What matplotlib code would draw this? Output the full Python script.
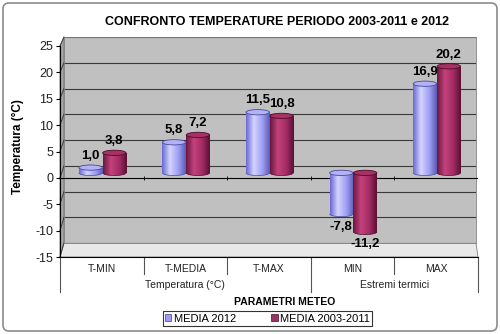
import matplotlib
matplotlib.use('Agg')
import matplotlib.pyplot as plt
import numpy as np
from matplotlib.patches import Rectangle, Ellipse, Polygon, FancyBboxPatch, Patch, Arc
from matplotlib.colors import LinearSegmentedColormap
import matplotlib.transforms as mtrans

plt.rcParams['font.family'] = ['Liberation Sans', 'DejaVu Sans']

# ---- data ----
categories = ['T-MIN', 'T-MEDIA', 'T-MAX', 'MIN', 'MAX']
groups = ['Temperatura (°C)', 'Estremi termici']
group_sizes = [3, 2]
media_2012 = [1.0, 5.8, 11.5, -7.8, 16.9]
media_2003_2011 = [3.8, 7.2, 10.8, -11.2, 20.2]
series_names = ['MEDIA 2012', 'MEDIA 2003-2011']
yticks = list(range(-15, 26, 5))

W, H = 500, 334
fig = plt.figure(figsize=(5, 3.34), dpi=100)


def fr(x0, y0, x1, y1):
    return [x0 / W, 1 - y1 / H, (x1 - x0) / W, (y1 - y0) / H]


# background / decoration
bg = fig.add_axes([0, 0, 1, 1], zorder=0)
bg.set_xlim(0, W)
bg.set_ylim(H, 0)
bg.axis('off')
bg.add_patch(FancyBboxPatch((3, 3), 494, 328, boxstyle='round,pad=0,rounding_size=6',
                            fc='white', ec='#8c8c8c', lw=1.2))
bg.add_patch(Polygon([(60, 46), (64, 37), (64, 243), (60, 257)], closed=True,
                     fc='#a4a4a4', ec='#707070', lw=0.6))
bg.add_patch(Polygon([(60, 257), (64, 243), (476, 243), (478, 257)], closed=True,
                     fc='#e8e8e8', ec='#808080', lw=0.6))
for v in yticks:
    fy = 46 + (25 - v) * 211 / 40
    wy = 37 + (25 - v) * 206 / 40
    bg.plot([60, 64], [fy, wy], color='#404040', lw=0.7)

# back wall
wall = fig.add_axes(fr(64, 37, 476, 243), zorder=1)
wall.set_facecolor('#c0c0c0')
wall.set_ylim(-15, 25)
wall.set_xlim(0, 1)
wall.set_yticks(yticks)
wall.set_xticks([])
wall.grid(axis='y', color='#3a3a3a', lw=0.8)
wall.tick_params(length=0, labelleft=False)
for s in wall.spines.values():
    s.set_color('#808080')
    s.set_linewidth(0.6)

# front axes
ax = fig.add_axes(fr(60, 46, 478, 257), zorder=2)
ax.patch.set_alpha(0)
ax.set_xlim(0, 5)
ax.set_ylim(-15, 25)
ax.set_yticks(yticks)
ax.set_yticklabels([str(t) for t in yticks], fontsize=9, color='#222222')
ax.tick_params(axis='y', length=3, width=0.8, pad=2)
xc = np.arange(len(categories)) + 0.5
ax.set_xticks(xc)
ax.set_xticklabels(categories, fontsize=7.5, color='#222222')
ax.tick_params(axis='x', length=0, pad=5)
ax.spines['top'].set_visible(False)
ax.spines['right'].set_visible(False)
ax.spines['left'].set_linewidth(0.8)
ax.spines['bottom'].set_linewidth(0.8)
ax.axhline(0, color='black', lw=0.8)
ax.plot(np.arange(1, len(categories)), [0] * (len(categories) - 1), ls='none',
        marker='|', ms=3, color='black', mew=0.6)

trans = mtrans.blended_transform_factory(ax.transData, ax.transAxes)
bounds = np.concatenate([[0], np.cumsum(group_sizes)])
for b in range(len(categories) + 1):
    ybot = -(292 - 257) / 211 if b in bounds else -(274 - 257) / 211
    ax.plot([b, b], [0, ybot], transform=trans, clip_on=False, color='#555555', lw=0.8)
for i, g in enumerate(groups):
    ax.text((bounds[i] + bounds[i + 1]) / 2, -(285 - 257) / 211, g, transform=trans,
            ha='center', va='center', fontsize=7.5, color='#222222')

# bars axes (slightly raised: 3D depth)
axb = fig.add_axes(fr(60, 41, 478, 252), zorder=3)
axb.patch.set_alpha(0)
axb.axis('off')

cmap_b = LinearSegmentedColormap.from_list('b', [(0, '#6a6ad4'), (0.33, '#d4d4ff'),
                                                (0.7, '#9c9cf2'), (1, '#5c5cb8')])
cmap_m = LinearSegmentedColormap.from_list('m', [(0, '#6a1840'), (0.33, '#c4427c'),
                                                (0.7, '#a02a62'), (1, '#5a1034')])
grad = np.linspace(0, 1, 64).reshape(1, -1)


def cylinder(a, x, w, v, cmap, top_fc, edge):
    lo, hi = min(0, v), max(0, v)
    eh = 1.0
    rect = Rectangle((x - w / 2, lo), w, hi - lo, fc='none', ec='none')
    a.add_patch(rect)
    im = a.imshow(grad, cmap=cmap, extent=(x - w / 2, x + w / 2, lo, hi), aspect='auto',
                  interpolation='bilinear', zorder=2)
    im.set_clip_path(rect)
    eb = Ellipse((x, lo), w, eh, fc='none', ec='none')
    a.add_patch(eb)
    im2 = a.imshow(grad, cmap=cmap, extent=(x - w / 2, x + w / 2, lo - eh, lo + eh),
                   aspect='auto', interpolation='bilinear', zorder=2)
    im2.set_clip_path(eb)
    a.add_patch(Arc((x, lo), w, eh, theta1=180, theta2=360, ec=edge, lw=0.5, zorder=3))
    a.add_patch(Ellipse((x, hi), w, eh, fc=top_fc, ec=edge, lw=0.6, zorder=4))


bw = 0.28
offs = [-0.135, 0.15]
series = [media_2012, media_2003_2011]
styles = [(cmap_b, '#b2b2f6', '#4a4a9a'), (cmap_m, '#a83062', '#4e0c2c')]
for s, vals in enumerate(series):
    for i, v in enumerate(vals):
        x = xc[i] + offs[s]
        cylinder(axb, x, bw, v, *styles[s])
        lab = f'{v:.1f}'.replace('.', ',')
        off = 8.5 if v >= 0 else -9
        axb.annotate(lab, (x, v), xytext=(0, off), textcoords='offset points',
                     ha='center', va='center', fontsize=9.5, fontweight='bold', zorder=6)

axb.set_xlim(0, 5)
axb.set_ylim(-15, 25)
axb.set_aspect('auto')

# texts
fig.text(277 / W, 1 - 22 / H, 'CONFRONTO TEMPERATURE PERIODO 2003-2011 e 2012',
         ha='center', va='center', fontsize=9, fontweight='bold')
fig.text(18 / W, 1 - 147 / H, 'Temperatura (°C)', rotation=90, ha='center', va='center',
         fontsize=8.5, fontweight='bold')
fig.text(285 / W, 1 - 302 / H, 'PARAMETRI METEO', ha='center', va='center',
         fontsize=7.5, fontweight='bold')

handles = [Patch(fc='#9999ff', ec='#404080', lw=0.5), Patch(fc='#993366', ec='#401020', lw=0.5)]
leg = fig.legend(handles, series_names, ncol=2, loc='center',
                 bbox_to_anchor=(267.5 / W, 1 - 318.5 / H), frameon=True, fancybox=False,
                 edgecolor='black', fontsize=8, handlelength=0.6, handleheight=0.6,
                 handletextpad=0.2, columnspacing=3.2, borderpad=0.2, borderaxespad=0)
leg.get_frame().set_linewidth(0.8)

fig.savefig('out.png', dpi=100)
